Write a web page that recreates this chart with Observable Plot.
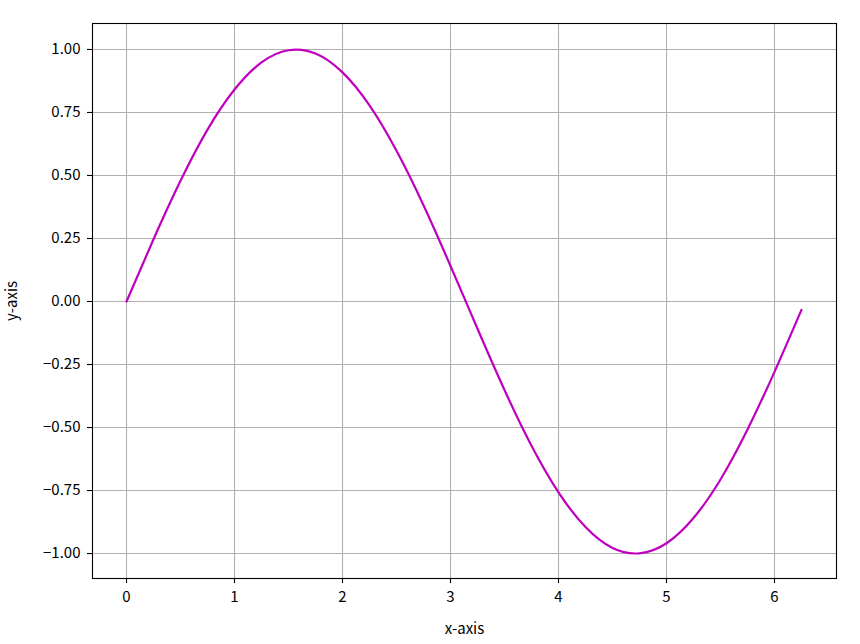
<!DOCTYPE html>
<html>
<head>
<meta charset="utf-8">
<script src="https://cdn.jsdelivr.net/npm/d3@7"></script>
<script src="https://cdn.jsdelivr.net/npm/@observablehq/plot@0.6"></script>
<style>
  html, body { margin: 0; padding: 0; background: #fff; }
</style>
</head>
<body>
<div id="chart"></div>
<script>
const xs = [0, 0.25, 0.5, 0.75, 1, 1.25, 1.5, 1.75, 2, 2.25, 2.5, 2.75, 3, 3.25, 3.5, 3.75, 4, 4.25, 4.5, 4.75, 5, 5.25, 5.5, 5.75, 6, 6.25];
const ys = [0, 0.247, 0.479, 0.682, 0.841, 0.949, 0.997, 0.984, 0.909, 0.778, 0.598, 0.382, 0.141, -0.108, -0.351, -0.572, -0.757, -0.895, -0.978, -0.999, -0.959, -0.859, -0.706, -0.508, -0.279, -0.033];
const xTicks = [0, 1, 2, 3, 4, 5, 6];
const yTicks = [-1, -0.75, -0.5, -0.25, 0, 0.25, 0.5, 0.75, 1];
const xLabel = "x-axis";
const yLabel = "y-axis";

const data = xs.map((x, i) => ({x, y: ys[i]}));
const font = "'Noto Sans CJK SC', 'DejaVu Sans', sans-serif";

const chart = Plot.plot({
  width: 860,
  height: 644,
  marginLeft: 92,
  marginRight: 24,
  marginTop: 23,
  marginBottom: 66,
  style: {fontFamily: font, fontSize: "15px", color: "#000", background: "#fff"},
  x: {domain: [-0.315, 6.574]},
  y: {domain: [-1.099, 1.103]},
  marks: [
    Plot.gridX(xTicks, {stroke: "#b0b0b0", strokeOpacity: 1, strokeWidth: 1.1}),
    Plot.gridY(yTicks, {stroke: "#b0b0b0", strokeOpacity: 1, strokeWidth: 1.1}),
    Plot.line(data, {x: "x", y: "y", stroke: "#bf00bf", strokeWidth: 2.2, curve: "natural"}),
    Plot.frame({stroke: "#000", strokeWidth: 1.1}),
    Plot.axisX(xTicks, {tickSize: 5, tickPadding: 8, tickFormat: d3.format("d"), fontSize: 15,
      label: xLabel, labelAnchor: "center", labelArrow: "none", labelOffset: 55, strokeWidth: 1.1}),
    Plot.axisY(yTicks, {tickSize: 5, tickPadding: 7, tickFormat: d3.format(".2f"), fontSize: 15,
      label: yLabel, labelAnchor: "center", labelArrow: "none", labelOffset: 86, strokeWidth: 1.1})
  ]
});
document.getElementById("chart").appendChild(chart);
</script>
</body>
</html>
